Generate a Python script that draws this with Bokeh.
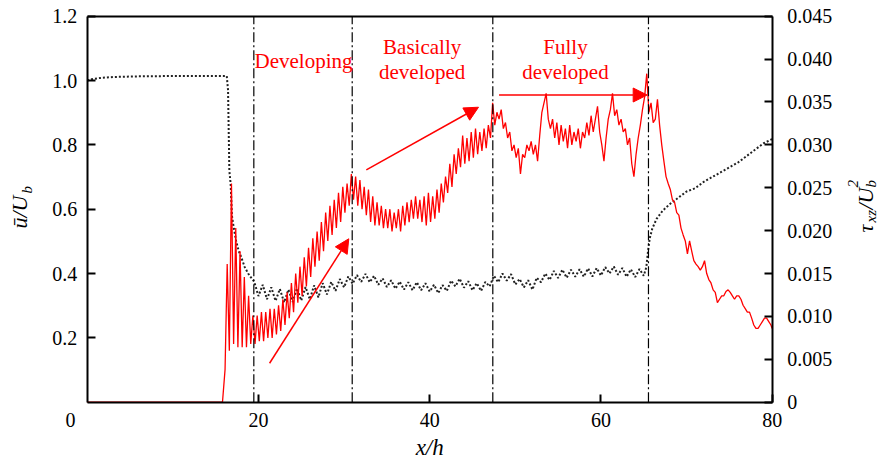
import numpy as np
from bokeh.plotting import figure
from bokeh.models import (Range1d, LinearAxis, FixedTicker, PrintfTickFormatter,
                          Label, Arrow, NormalHead, ColumnDataSource)
from bokeh.embed import file_html
from bokeh.resources import INLINE

# ---------------- data ----------------
x_ticks = [20, 40, 60, 80]
u_ticks = [0.2, 0.4, 0.6, 0.8, 1.0, 1.2]
tau_ticks = [0, 0.005, 0.01, 0.015, 0.02, 0.025, 0.03, 0.035, 0.04, 0.045]

# mean streamwise velocity u/Ub (black dotted)
x_u_head = [0, 0.5, 1.5, 3, 6, 10, 16.3, 16.45, 16.6, 16.75, 16.9, 17.1, 17.4, 17.7, 18.0, 18.4, 18.8, 19.2]
u_head = [1.000, 1.004, 1.008, 1.011, 1.013, 1.014, 1.014, 0.97, 0.72, 0.68, 0.58, 0.545, 0.50, 0.47, 0.45, 0.42, 0.40, 0.385]
x_u_mid = [19.5 + 0.5 * i for i in range(92)]
u_mid = [0.375, 0.330, 0.365, 0.320, 0.357, 0.315, 0.352, 0.310, 0.350, 0.312,
         0.354, 0.316, 0.358, 0.320, 0.363, 0.326, 0.370, 0.335, 0.374, 0.346,
         0.383, 0.357, 0.391, 0.368, 0.395, 0.374, 0.399, 0.373, 0.393, 0.365,
         0.385, 0.358, 0.379, 0.353, 0.375, 0.350, 0.373, 0.348, 0.373, 0.348,
         0.370, 0.344, 0.365, 0.339, 0.364, 0.346, 0.378, 0.360, 0.384, 0.356,
         0.376, 0.348, 0.370, 0.346, 0.374, 0.360, 0.393, 0.373, 0.400, 0.378,
         0.398, 0.366, 0.383, 0.357, 0.379, 0.350, 0.387, 0.373, 0.400, 0.380,
         0.408, 0.386, 0.412, 0.387, 0.412, 0.390, 0.413, 0.390, 0.416, 0.391,
         0.417, 0.394, 0.420, 0.400, 0.422, 0.396, 0.417, 0.390, 0.413, 0.389,
         0.414, 0.393]
x_u_tail = [65.3, 65.5, 65.7, 66.0, 66.5, 67.2, 68.0, 69.0, 70.0, 71.0, 72.0, 73.0, 74.0, 75.0, 76.0, 77.0, 78.0, 79.0, 80.0]
u_tail = [0.42, 0.47, 0.51, 0.54, 0.57, 0.595, 0.615, 0.635, 0.655, 0.665, 0.685, 0.70, 0.715, 0.73, 0.745, 0.765, 0.785, 0.805, 0.818]

# bed shear stress tau_xz/Ub^2 (red, right axis)
x_tau = [0.0, 15.8] + [round(16.1 + 0.25 * i, 2) for i in range(256)] + [80.0]
tau = [0.0, 0.0,
       0.0038, 0.0161, 0.0060, 0.0255, 0.0068, 0.0203, 0.0064, 0.0176,
       0.0064, 0.0146, 0.0064, 0.0124, 0.0068, 0.0101, 0.0068, 0.0101,
       0.0071, 0.0105, 0.0071, 0.0105, 0.0075, 0.0109, 0.0075, 0.0109,
       0.0079, 0.0113, 0.0083, 0.0120, 0.0090, 0.0128, 0.0098, 0.0139,
       0.0105, 0.0150, 0.0116, 0.0158, 0.0124, 0.0169, 0.0135, 0.0180,
       0.0146, 0.0191, 0.0158, 0.0199, 0.0165, 0.0210, 0.0176, 0.0221,
       0.0188, 0.0229, 0.0195, 0.0236, 0.0203, 0.0244, 0.0210, 0.0251,
       0.0221, 0.0255, 0.0229, 0.0266, 0.0236, 0.0263, 0.0229, 0.0259,
       0.0225, 0.0251, 0.0218, 0.0248, 0.0210, 0.0240, 0.0206, 0.0233,
       0.0206, 0.0229, 0.0203, 0.0225, 0.0203, 0.0225, 0.0199, 0.0221,
       0.0203, 0.0225, 0.0199, 0.0229, 0.0206, 0.0233, 0.0210, 0.0236,
       0.0214, 0.0240, 0.0214, 0.0236, 0.0210, 0.0240, 0.0206, 0.0244,
       0.0210, 0.0240, 0.0214, 0.0248, 0.0221, 0.0255, 0.0233, 0.0263,
       0.0244, 0.0278, 0.0251, 0.0289, 0.0266, 0.0296, 0.0274, 0.0311,
       0.0278, 0.0308, 0.0281, 0.0315, 0.0285, 0.0319, 0.0289, 0.0315,
       0.0293, 0.0319, 0.0296, 0.0323, 0.0308, 0.0349, 0.0323, 0.0338,
       0.0330, 0.0341, 0.0319, 0.0326, 0.0308, 0.0315, 0.0293, 0.0300,
       0.0285, 0.0296, 0.0266, 0.0289, 0.0285, 0.0300, 0.0293, 0.0304,
       0.0289, 0.0300, 0.0281, 0.0311, 0.0338, 0.0349, 0.0360, 0.0330,
       0.0319, 0.0330, 0.0308, 0.0326, 0.0300, 0.0323, 0.0304, 0.0319,
       0.0296, 0.0323, 0.0300, 0.0315, 0.0304, 0.0319, 0.0296, 0.0315,
       0.0308, 0.0326, 0.0311, 0.0334, 0.0315, 0.0330, 0.0345, 0.0315,
       0.0300, 0.0281, 0.0308, 0.0330, 0.0341, 0.0360, 0.0334, 0.0341,
       0.0323, 0.0330, 0.0315, 0.0319, 0.0300, 0.0308, 0.0278, 0.0263,
       0.0289, 0.0308, 0.0323, 0.0341, 0.0356, 0.0383, 0.0338, 0.0349,
       0.0326, 0.0330, 0.0353, 0.0323, 0.0300, 0.0281, 0.0263, 0.0255,
       0.0248, 0.0236, 0.0233, 0.0221, 0.0218, 0.0203, 0.0195, 0.0188,
       0.0173, 0.0188, 0.0176, 0.0165, 0.0161, 0.0158, 0.0154, 0.0158,
       0.0165, 0.0150, 0.0143, 0.0139, 0.0131, 0.0128, 0.0116, 0.0120,
       0.0124, 0.0124, 0.0129, 0.0131, 0.0128, 0.0124, 0.0120, 0.0124,
       0.0124, 0.0120, 0.0113, 0.0109, 0.0105, 0.0105, 0.0098, 0.0090,
       0.0086, 0.0086, 0.0090, 0.0094, 0.0098, 0.0098, 0.0094, 0.0090,
       0.0086]

# region boundaries and annotations
phase_bounds = [19.46, 30.95, 47.37, 65.55]
region_text = ["Developing", "Basically", "developed", "Fully", "developed"]
region_x = [25.26, 39.12, 39.12, 55.86, 55.86]
region_y = [1.062, 1.1035, 1.0258, 1.1035, 1.0258]
arrow_x0 = [21.3, 32.6, 48.1]
arrow_y0 = [0.121, 0.722, 0.955]
arrow_x1 = [30.55, 45.7, 65.4]
arrow_y1 = [0.508, 0.917, 0.955]

# ---------------- figure ----------------
FONT = "Liberation Serif"
RED = "#ff0000"
X_LO, X_HI = -10.125, 93.349
U_LO, U_HI = -0.1999, 1.2488
TAU_PER_U = 0.045 / 1.2

p = figure(width=886, height=466, x_range=Range1d(X_LO, X_HI), y_range=Range1d(U_LO, U_HI),
           output_backend="svg", toolbar_location=None, min_border=0,
           x_axis_type=None, y_axis_type=None)
p.title.visible = False
p.extra_y_ranges = {"tau": Range1d(U_LO * TAU_PER_U, U_HI * TAU_PER_U)}
p.xgrid.visible = False
p.ygrid.visible = False
p.outline_line_color = None
p.background_fill_color = "white"
p.border_fill_color = "white"

xa = LinearAxis(fixed_location=0, bounds=(0, 80), ticker=FixedTicker(ticks=x_ticks))
ya = LinearAxis(fixed_location=0, bounds=(0, 1.2), ticker=FixedTicker(ticks=u_ticks),
                formatter=PrintfTickFormatter(format="%.1f"))
ra = LinearAxis(y_range_name="tau", fixed_location=80, bounds=(0, 0.045),
                ticker=FixedTicker(ticks=tau_ticks), formatter=PrintfTickFormatter(format="%.3f"))
ra.major_label_overrides = {0: "0"}
ta = LinearAxis(fixed_location=1.2, bounds=(0, 80), ticker=FixedTicker(ticks=[]))
p.add_layout(xa, "below")
p.add_layout(ya, "left")
p.add_layout(ra, "right")
p.add_layout(ta, "above")

for ax in [xa, ya, ra, ta]:
    ax.major_tick_in = 8
    ax.major_tick_out = 0
    ax.minor_tick_line_color = None
    ax.axis_line_width = 2
    ax.axis_line_color = "black"
    ax.major_tick_line_width = 2
    ax.major_tick_line_color = "black"
    ax.major_label_text_font = FONT
    ax.major_label_text_font_size = "20px"
    ax.major_label_text_color = "black"
ta.major_tick_line_color = None
ta.major_label_text_color = None
xa.major_label_standoff = 11
ya.major_label_standoff = 10
ra.major_label_standoff = 15

# data lines
p.line(x_u_head + x_u_mid + x_u_tail, u_head + u_mid + u_tail,
       line_color="#222222", line_width=2, line_dash="2 2")
p.line(x_tau, tau, y_range_name="tau", line_color=RED, line_width=1.3)

# region boundaries (dash-dot), spanning the axis box
p.segment(x0=phase_bounds, y0=[0] * len(phase_bounds), x1=phase_bounds,
          y1=[1.2] * len(phase_bounds), line_color="black", line_width=1.2,
          line_dash="10 3 2 3")

for t, xx, yy in zip(region_text, region_x, region_y):
    p.add_layout(Label(x=xx, y=yy, text=t, text_font=FONT, text_font_size="21px",
                       text_color=RED, text_align="center", text_baseline="middle"))

arrow_src = ColumnDataSource(dict(x0=arrow_x0, y0=arrow_y0, x1=arrow_x1, y1=arrow_y1))
p.add_layout(Arrow(source=arrow_src, x_start="x0", y_start="y0", x_end="x1", y_end="y1",
                   line_color=RED, line_width=1.5,
                   end=NormalHead(size=14, fill_color=RED, line_color=RED)))

# x-axis "0" label at the corner
p.add_layout(Label(x=-1.95, y=-0.0538, text="0", text_font=FONT, text_font_size="20px",
                   text_align="center", text_baseline="alphabetic", text_color="black"))

def title_part(x, y, text, size, angle=0.0, align="left", baseline="alphabetic"):
    p.add_layout(Label(x=x, y=y, text=text, text_font=FONT, text_font_size=size,
                       text_font_style="italic", text_color="black", angle=angle,
                       text_align=align, text_baseline=baseline))

# left title  u-bar / U_b
title_part(-7.91, 0.540, "\u016b/U", "22px", angle=np.pi / 2)
title_part(-7.03, 0.6488, "b", "15px", angle=np.pi / 2)
# right title  tau_xz / U_b^2
title_part(90.91, 0.5276, "\u03c4", "22px", angle=np.pi / 2)
title_part(91.59, 0.5586, "xz", "15px", angle=np.pi / 2)
title_part(90.91, 0.599, "/U", "22px", angle=np.pi / 2)
title_part(91.59, 0.6674, "b", "15px", angle=np.pi / 2)
title_part(89.49, 0.6674, "2", "15px", angle=np.pi / 2)
# bottom title x/h
title_part(40.0, -0.1408, "x/h", "23px", align="center")

open("out.html", "w").write(file_html(p, INLINE))
